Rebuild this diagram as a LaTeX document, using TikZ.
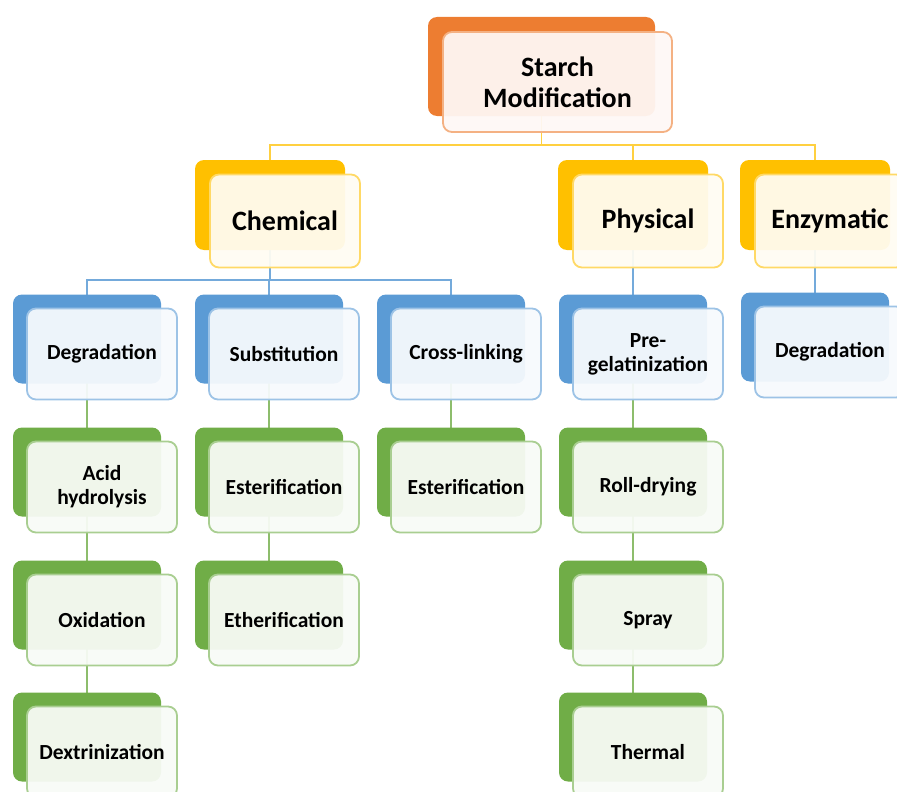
\documentclass[tikz,border=0pt]{standalone}
\usepackage{fontspec}
\setmainfont{Carlito}
\usepackage{xcolor}
\usetikzlibrary{positioning, backgrounds}

\definecolor{orng}{HTML}{ED7D31}
\definecolor{gold}{HTML}{FFC000}
\definecolor{sky}{HTML}{5B9BD5}
\definecolor{leaf}{HTML}{70AD47}

\begin{document}
\begin{tikzpicture}[
      x=1pt, y=-1pt,
      bk/.style={rounded corners=9pt, inner sep=0pt, minimum width=148pt, minimum height=89pt, fill=#1},
      fr/.style={bk=#1!5, draw=#1!60, line width=1.8pt, fill opacity=0.94, text opacity=1,
                 align=center, font=\bfseries\fontsize{21.5}{24}\selectfont},
      big/.style={font=\bfseries\fontsize{28}{31}\selectfont},
      wire/.style={line width=1.8pt, draw=#1}
    ]
    \clip (0,0) rectangle (897,792);

    % Radice
    \node[bk=orng, minimum width=227pt, minimum height=99pt] (top) at (541.5,66.5) {};
    \node[fr=orng, big, minimum width=229pt, minimum height=100pt] (top-t) at ([shift={(16pt,-15.5pt)}]top) {Starch\\Modification};

    % Famiglie
    \foreach \n/\x/\t in {chem/270/Chemical, phys/633/Physical, enzy/815/Enzymatic} {
      \node[bk=gold, minimum width=150pt, minimum height=90pt] (\n) at (\x,205) {};
      \node[fr=gold, big, minimum width=150pt, minimum height=93pt] (\n-t) at ([shift={(15pt,-16pt)}]\n) {\t};
    }

    % Metodi
    \foreach \n/\x/\y/\t in {degr/87/339/Degradation, subs/269/339/Substitution, cros/451/339/Cross-linking,
                             preg/633/339/Pre-\\gelatinization, edeg/815/337/Degradation} {
      \node[bk=sky] (\n) at (\x,\y) {};
      \node[fr=sky, minimum width=150pt, minimum height=91pt] (\n-t) at ([shift={(15pt,-15pt)}]\n) {\t};
    }

    % Tecniche
    \foreach \n/\x/\y/\t in {acid/87/472/Acid\\hydrolysis, este/269/472/Esterification, estc/451/472/Esterification,
                             roll/633/472/Roll-drying, oxid/87/605/Oxidation, ethe/269/605/Etherification,
                             spra/633/605/Spray, dext/87/737/Dextrinization, ther/633/737/Thermal} {
      \node[bk=leaf] (\n) at (\x,\y) {};
      \node[fr=leaf, minimum width=150pt, minimum height=91pt] (\n-t) at ([shift={(15pt,-15pt)}]\n) {\t};
    }

    % Collegamenti
    \begin{scope}[on background layer]
      \coordinate (busA) at (0,145);
      \coordinate (busB) at (0,280);
      \foreach \c in {chem, phys, enzy} \draw[wire=gold!75] (top.center) -- (top.center |- busA) -| (\c.center);
      \foreach \c in {degr, subs, cros} \draw[wire=sky!85] (chem.center) -- (chem.center |- busB) -| (\c.center);
      \draw[wire=sky!85] (phys.center) -- (preg.center);
      \draw[wire=sky!85] (enzy.center) -- (edeg.center);
      \foreach \a/\b in {degr/acid, acid/oxid, oxid/dext, subs/este, este/ethe, cros/estc, preg/roll, roll/spra, spra/ther}
        \draw[wire=leaf!80] (\a.center) -- (\b.center);
    \end{scope}
  \end{tikzpicture}
\end{document}
